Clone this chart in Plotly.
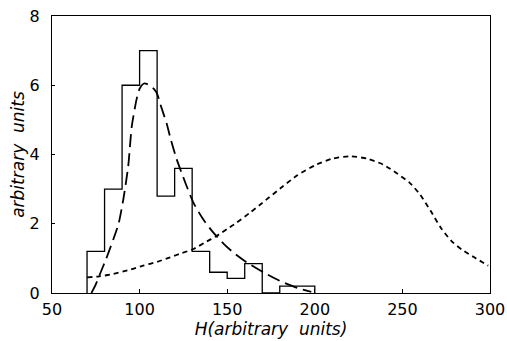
import plotly.graph_objects as go

# Histogram (bin edges and heights)
bin_edges = [70, 80, 90, 100, 110, 120, 130, 140, 150, 160, 170, 180, 190, 200]
bin_heights = [1.2, 3.0, 6.0, 7.0, 2.8, 3.6, 1.2, 0.6, 0.42, 0.85, 0.0, 0.2, 0.2]

# Long-dashed curve
long_x = [72.5, 75, 77.4, 81, 85, 88, 90.7, 93.5, 95.5, 98.3, 100, 102.5, 105, 108, 110,
          112.5, 115.4, 118, 121.2, 126, 130.7, 136, 142, 148, 153.5, 161, 170.6, 180, 190, 198]
long_y = [0.0, 0.25, 0.55, 1.0, 1.55, 2.0, 2.7, 3.66, 4.8, 5.6, 5.9, 6.05, 6.02, 5.9, 5.75,
          5.35, 4.9, 4.4, 3.86, 3.2, 2.61, 2.15, 1.75, 1.42, 1.17, 0.89, 0.6, 0.35, 0.15, 0.03]

# Short-dashed curve
short_x = [70, 77, 85, 95, 102, 110, 117.4, 124, 130.7, 137, 144, 150, 155.4, 163, 170, 182,
           190, 201, 210, 220, 230, 239, 247, 254, 260, 266, 272, 278, 284, 291, 299]
short_y = [0.45, 0.48, 0.55, 0.68, 0.79, 0.9, 1.03, 1.15, 1.27, 1.45, 1.65, 1.85, 2.03, 2.32, 2.6, 3.09,
           3.4, 3.71, 3.88, 3.95, 3.88, 3.71, 3.45, 3.19, 2.85, 2.38, 1.88, 1.5, 1.25, 1.03, 0.79]

x_ticks = [50, 100, 150, 200, 250, 300]
y_ticks = [0, 2, 4, 6, 8]

# step outline of histogram
hx = [bin_edges[0]] + bin_edges
hy = [0] + bin_heights + [0]

fig = go.Figure()
fig.add_trace(go.Scatter(x=hx, y=hy, mode="lines", line=dict(shape="hv", color="black", width=1.3),
                         hoverinfo="skip"))
fig.add_trace(go.Scatter(x=long_x, y=long_y, mode="lines",
                         line=dict(shape="spline", smoothing=0.6, color="black", width=1.8, dash="13px,6px")))
fig.add_trace(go.Scatter(x=short_x, y=short_y, mode="lines",
                         line=dict(shape="spline", smoothing=0.6, color="black", width=1.8, dash="5px,4px")))

font_family = "DejaVu Sans"
fig.update_layout(
    width=507, height=341,
    margin=dict(l=52, r=17, t=16, b=48),
    paper_bgcolor="white", plot_bgcolor="white",
    showlegend=False,
    font=dict(family=font_family, size=16, color="black"),
)
fig.update_xaxes(range=[50, 300], tickvals=x_ticks, ticks="inside", ticklen=4, tickcolor="black",
                 showline=True, linecolor="black", linewidth=1.3, mirror=True, showgrid=False,
                 zeroline=False, tickfont=dict(size=16), automargin=False, ticklabelstandoff=2,
                 title=dict(text="H(arbitrary  units)", font=dict(size=17, style="italic"), standoff=0))
fig.update_yaxes(range=[0, 8], tickvals=y_ticks, ticks="inside", ticklen=3, tickcolor="black",
                 showline=True, linecolor="black", linewidth=1.3, mirror=True, showgrid=False,
                 zeroline=False, tickfont=dict(size=16), automargin=False, ticklabelstandoff=8,
                 title=dict(text="arbitrary  units", font=dict(size=17, style="italic"), standoff=0))

fig.write_html("out.html")
